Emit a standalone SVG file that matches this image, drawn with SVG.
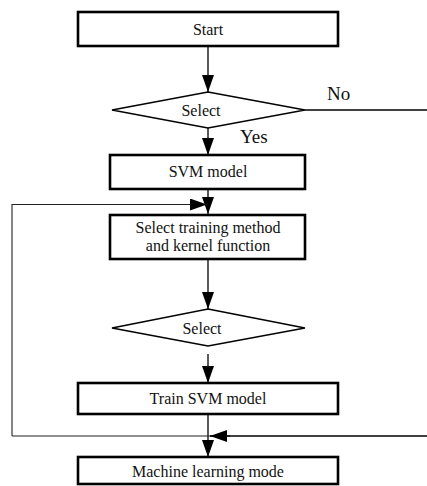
<svg xmlns="http://www.w3.org/2000/svg" width="427" height="486" viewBox="0 0 427 486">
  <style>
    .box { fill: #fff; stroke: #000; stroke-width: 2.6; }
    .dia { fill: #fff; stroke: #000; stroke-width: 1.4; }
    .lbl { font-family: "Liberation Serif", "Times New Roman", serif; font-size: 16px; fill: #111; text-anchor: middle; }
    .yn { font-family: "Liberation Serif", "Times New Roman", serif; font-size: 19px; fill: #111; }
    .ln { fill: none; stroke: #000; stroke-width: 1.3; }
    .loop { fill: none; stroke: #222; stroke-width: 1.1; }
  </style>
  <defs>
    <marker id="ah" viewBox="0 0 17 12" refX="17" refY="6" markerWidth="17" markerHeight="12" markerUnits="userSpaceOnUse" orient="auto">
      <path d="M0,0 L17,6 L0,12 Z" fill="#000"/>
    </marker>
  </defs>

  <g id="connectors">
    <line class="ln" x1="208" y1="46" x2="208" y2="92" marker-end="url(#ah)"/>
    <line class="ln" x1="305" y1="110" x2="427" y2="110"/>
    <line class="ln" x1="208" y1="128" x2="208" y2="155" marker-end="url(#ah)"/>
    <line class="ln" x1="208" y1="189" x2="208" y2="214" marker-end="url(#ah)"/>
    <polyline class="loop" points="12,436 12,204.5 207,204.5" marker-end="url(#ah)"/>
    <line class="ln" x1="208" y1="259" x2="208" y2="309" marker-end="url(#ah)"/>
    <line class="ln" x1="208" y1="354" x2="208" y2="383" marker-end="url(#ah)"/>
    <line class="ln" x1="208" y1="414" x2="208" y2="457" marker-end="url(#ah)"/>
    <line class="loop" x1="12" y1="436" x2="230" y2="436"/>
    <line class="ln" x1="427" y1="436" x2="210" y2="436" marker-end="url(#ah)"/>
  </g>

  <g id="start">
    <rect class="box" x="78" y="12" width="260" height="34"/>
    <text class="lbl" x="208" y="35">Start</text>
  </g>

  <g id="select-1">
    <polygon class="dia" points="208,92 305,110 208,128 112,110"/>
    <text class="lbl" x="201" y="116">Select</text>
    <text class="yn" x="327" y="100">No</text>
    <text class="yn" x="240" y="143">Yes</text>
  </g>

  <g id="svm-model">
    <rect class="box" x="110" y="155" width="195" height="34"/>
    <text class="lbl" x="208" y="177">SVM model</text>
  </g>

  <g id="training-method">
    <rect class="box" x="110" y="215" width="195" height="44"/>
    <text class="lbl" x="208" y="233">Select training method</text>
    <text class="lbl" x="208" y="251">and kernel function</text>
  </g>

  <g id="select-2">
    <polygon class="dia" points="208,309 305,328 208,346 112,328"/>
    <text class="lbl" x="202" y="334">Select</text>
  </g>

  <g id="train-svm">
    <rect class="box" x="78" y="383" width="260" height="31"/>
    <text class="lbl" x="208" y="404">Train SVM model</text>
  </g>

  <g id="ml-mode">
    <rect class="box" x="78" y="457" width="260" height="27"/>
    <text class="lbl" x="208" y="477">Machine learning mode</text>
  </g>
</svg>
